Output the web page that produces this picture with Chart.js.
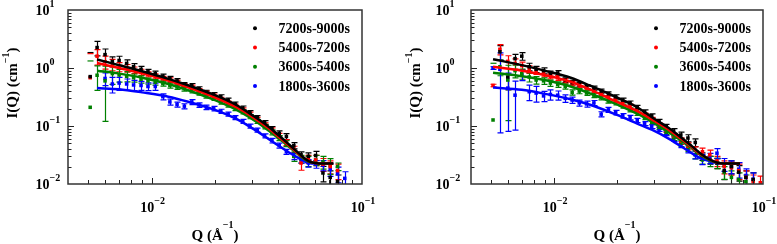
<!DOCTYPE html>
<html>
<head>
<meta charset="utf-8">
<script src="https://cdn.jsdelivr.net/npm/chart.js@4.4.1/dist/chart.umd.min.js"></script>
<style>
html, body { margin: 0; padding: 0; background: #fff; }
#wrap { position: relative; width: 777px; height: 244px; }
canvas { position: absolute; top: 0; }
#left { left: 0; }
#right { left: 390px; }
</style>
</head>
<body>
<div id="wrap">
<canvas id="left" width="390" height="244"></canvas>
<canvas id="right" width="387" height="244"></canvas>
</div>
<script>
// --- series + axis info ---
const seriesNames = ['7200s-9000s', '5400s-7200s', '3600s-5400s', '1800s-3600s'];
const seriesColors = ['#000000', '#ff0000', '#008000', '#0000ff'];

const xTickValues = [0.01, 0.1];
const xTickExps = ['\u22122', '\u22121'];
const yTickValues = [0.01, 0.1, 1, 10];
const yTickExps = ['\u22122', '\u22121', '0', '1'];

// measured Q points (shared by both panels)
const qPoints = [0.0051, 0.0055, 0.0060, 0.0065, 0.0070, 0.0076, 0.0082, 0.0089, 0.0096, 0.0104,
  0.0113, 0.0122, 0.0132, 0.0143, 0.0155, 0.0168, 0.0182, 0.0197, 0.0213, 0.0231,
  0.0250, 0.0271, 0.0293, 0.0318, 0.0344, 0.0373, 0.0404, 0.0437, 0.0474, 0.0513,
  0.0556, 0.0602, 0.0652, 0.0706, 0.0765, 0.0828, 0.0897, 0.0971];

// --- left panel: intensities + relative errors ---
const blackL = [0.71, 2.25, 1.70, 1.30, 1.35, 1.20, 1.05, 0.95, 0.86, 0.80, 0.72, 0.66, 0.60, 0.52, 0.50, 0.44, 0.38, 0.35, 0.32, 0.28,
  0.24, 0.205, 0.17, 0.14, 0.115, 0.09, 0.075, 0.066, 0.046, 0.032, 0.030, 0.031, 0.0155, 0.013, 0.011, null, null, null];
const redL = [0.68, 1.60, 1.28, 1.15, 1.05, 1.00, 0.92, 0.85, 0.78, 0.72, 0.66, 0.62, 0.56, 0.50, 0.47, 0.41, 0.37, 0.33, 0.29, 0.25,
  0.22, 0.19, 0.16, 0.13, 0.105, 0.085, 0.068, 0.052, 0.040, 0.023, 0.027, 0.026, 0.022, 0.020, 0.017, null, null, null];
const greenL = [0.21, 0.75, 0.60, 0.80, 0.76, 0.72, 0.68, 0.64, 0.60, 0.57, 0.54, 0.50, 0.47, 0.44, 0.41, 0.37, 0.33, 0.30, 0.26, 0.23,
  0.20, 0.175, 0.145, 0.12, 0.098, 0.078, 0.062, 0.050, 0.030, 0.027, 0.025, 0.026, 0.024, 0.021, 0.020, null, null, null];
const blueL = [null, null, 0.66, 0.53, 0.55, 0.53, 0.51, 0.50, 0.48, 0.48, 0.32, 0.26, 0.235, 0.22, 0.26, 0.23, 0.21, 0.20, 0.18, 0.16,
  0.14, 0.12, 0.10, 0.085, 0.068, 0.056, 0.046, 0.036, 0.030, 0.026, 0.023, 0.022, 0.021, 0.018, 0.015, 0.0125, null, null];

const blackLErr = [1.6, 0.28, 0.25, 0.2, 0.18, 0.15, 0.13, 0.12, 0.10, 0.10, 0.09, 0.09, 0.09, 0.08, 0.08, 0.08, 0.08, 0.08, 0.08, 0.08,
  0.08, 0.08, 0.08, 0.08, 0.08, 0.09, 0.10, 0.12, 0.12, 0.12, 0.15, 0.18, 0.3, 0.3, 0.3, 0, 0, 0];
const redLErr = [1.6, 0.3, 0.25, 0.22, 0.18, 0.15, 0.13, 0.12, 0.10, 0.10, 0.09, 0.09, 0.09, 0.08, 0.08, 0.08, 0.08, 0.08, 0.08, 0.08,
  0.08, 0.08, 0.08, 0.08, 0.08, 0.09, 0.10, 0.12, 0.12, 0.25, 0.15, 0.2, 0.25, 0.25, 0.3, 0, 0, 0];
const greenLErr = [5.3, 0.45, 0.8, 0.35, 0.25, 0.2, 0.16, 0.14, 0.12, 0.11, 0.10, 0.10, 0.09, 0.09, 0.09, 0.08, 0.08, 0.08, 0.08, 0.08,
  0.08, 0.08, 0.08, 0.08, 0.09, 0.10, 0.10, 0.12, 0.18, 0.15, 0.2, 0.2, 0.25, 0.3, 0.15, 0, 0, 0];
const blueLErr = [0, 0, 0.25, 0.3, 0.25, 0.22, 0.2, 0.18, 0.15, 0.14, 0.12, 0.12, 0.1, 0.1, 0.1, 0.09, 0.09, 0.09, 0.08, 0.08,
  0.08, 0.08, 0.08, 0.08, 0.08, 0.09, 0.1, 0.1, 0.12, 0.12, 0.15, 0.15, 0.2, 0.25, 0.3, 0.3, 0, 0];

// --- left panel fits ---
const fitQL = [0.0055, 0.007, 0.009, 0.012, 0.015, 0.02, 0.025, 0.03, 0.035, 0.04, 0.045, 0.05, 0.053, 0.056, 0.06, 0.065, 0.073];
const blackFitL = [1.40, 1.12, 0.88, 0.65, 0.50, 0.34, 0.235, 0.155, 0.105, 0.07, 0.048, 0.034, 0.028, 0.0245, 0.023, 0.0225, 0.0225];
const redFitL = [1.22, 1.00, 0.81, 0.61, 0.46, 0.31, 0.215, 0.145, 0.098, 0.066, 0.046, 0.033, 0.028, 0.0245, 0.023, 0.0225, 0.0225];
const greenFitL = [0.90, 0.80, 0.68, 0.53, 0.41, 0.28, 0.195, 0.132, 0.09, 0.062, 0.044, 0.032, 0.027, 0.024, 0.023, 0.0225, 0.0225];
const blueFitL = [0.45, 0.43, 0.38, 0.32, 0.26, 0.19, 0.135, 0.092, 0.064, 0.046, 0.035, 0.028, 0.025, 0.023, 0.0225, 0.0225, 0.0225];

// --- right panel: intensities + relative errors ---
const blackR = [null, 1.90, 0.70, 1.45, 1.60, 1.05, 0.95, 0.90, 0.80, 0.82, 0.62, 0.56, 0.52, 0.48, 0.45, 0.40, 0.36, 0.32, 0.28, 0.25,
  0.21, 0.175, 0.15, 0.12, 0.098, 0.082, 0.070, 0.062, 0.052, 0.030, 0.026, 0.023, 0.017, 0.020, 0.016, 0.013, 0.012, null];
const redR = [0.50, 2.10, 1.30, 1.20, 1.10, 0.95, 0.88, 0.80, 0.72, 0.68, 0.60, 0.54, 0.50, 0.45, 0.40, 0.35, 0.31, 0.28, 0.25, 0.22,
  0.185, 0.155, 0.13, 0.105, 0.085, 0.068, 0.055, 0.045, 0.038, 0.036, 0.032, 0.025, 0.020, 0.019, 0.017, 0.013, 0.011, 0.0105];
const greenR = [0.127, 1.05, 0.62, 0.90, 0.80, 0.70, 0.62, 0.60, 0.55, 0.52, 0.48, 0.38, 0.40, 0.37, 0.34, 0.31, 0.27, 0.25, 0.22, 0.19,
  0.165, 0.14, 0.115, 0.095, 0.078, 0.062, 0.050, 0.042, 0.032, 0.026, 0.025, 0.023, 0.016, 0.013, 0.012, 0.011, null, null];
const blueR = [1.0, 0.95, 0.45, 0.34, 0.76, 0.39, 0.37, 0.33, 0.35, 0.34, 0.30, 0.28, 0.25, 0.24, 0.25, 0.16, 0.19, 0.17, 0.15, 0.14,
  0.125, 0.11, 0.098, 0.088, 0.075, 0.060, 0.048, 0.040, 0.032, 0.027, 0.028, 0.034, 0.022, 0.020, 0.018, 0.014, 0.012, null];

const blackRErr = [0, 0.28, 0.4, 0.18, 0.15, 0.15, 0.12, 0.12, 0.10, 0.10, 0.09, 0.09, 0.09, 0.08, 0.08, 0.08, 0.08, 0.08, 0.08, 0.08,
  0.08, 0.08, 0.08, 0.08, 0.09, 0.10, 0.12, 0.14, 0.15, 0.15, 0.15, 0.2, 0.3, 0.25, 0.3, 0.3, 0.3, 0];
const redRErr = [0.05, 0.2, 0.25, 0.2, 0.15, 0.15, 0.12, 0.12, 0.10, 0.10, 0.09, 0.09, 0.09, 0.08, 0.08, 0.08, 0.08, 0.08, 0.08, 0.08,
  0.08, 0.08, 0.08, 0.08, 0.09, 0.10, 0.12, 0.14, 0.15, 0.15, 0.2, 0.2, 0.25, 0.25, 0.3, 0.3, 0.3, 0.3];
const greenRErr = [8.5, 0.3, 0.8, 0.25, 0.2, 0.18, 0.15, 0.13, 0.12, 0.11, 0.10, 0.10, 0.10, 0.09, 0.09, 0.09, 0.08, 0.08, 0.08, 0.08,
  0.08, 0.08, 0.08, 0.08, 0.09, 0.10, 0.12, 0.14, 0.15, 0.15, 0.2, 0.2, 0.25, 0.3, 0.3, 0.3, 0, 0];
const blueRErr = [0.05, 0.92, 0.82, 0.75, 0.2, 0.3, 0.3, 0.2, 0.2, 0.18, 0.15, 0.12, 0.12, 0.12, 0.10, 0.10, 0.10, 0.09, 0.09, 0.09,
  0.08, 0.08, 0.08, 0.08, 0.09, 0.10, 0.12, 0.14, 0.15, 0.2, 0.2, 0.2, 0.25, 0.25, 0.3, 0.3, 0.3, 0];

// --- right panel fits ---
const fitQR = [0.0051, 0.007, 0.009, 0.012, 0.015, 0.02, 0.025, 0.03, 0.035, 0.04, 0.045, 0.05, 0.055, 0.06, 0.065, 0.0776];
const blackFitR = [1.42, 1.12, 0.90, 0.68, 0.49, 0.31, 0.21, 0.135, 0.095, 0.066, 0.047, 0.034, 0.027, 0.0235, 0.0225, 0.0225];
const redFitR = [1.05, 0.90, 0.76, 0.58, 0.42, 0.26, 0.18, 0.124, 0.088, 0.062, 0.045, 0.033, 0.027, 0.0235, 0.0225, 0.0225];
const greenFitR = [0.83, 0.72, 0.62, 0.48, 0.36, 0.235, 0.163, 0.113, 0.08, 0.058, 0.043, 0.032, 0.026, 0.0235, 0.0225, 0.0225];
const blueFitR = [0.46, 0.42, 0.36, 0.29, 0.23, 0.155, 0.11, 0.083, 0.062, 0.046, 0.035, 0.028, 0.025, 0.023, 0.0225, 0.0225];

const X_MIN = 0.004, X_MAX = 0.1, Y_MIN = 0.01, Y_MAX = 10;
const FONT = '"Liberation Serif", "Times New Roman", serif';

// draws text made of normal + superscript pieces
function drawRich(ctx, parts, x, y, size, center) {
  const supSize = Math.round(size * 0.68);
  let w = 0;
  parts.forEach(p => {
    ctx.font = 'bold ' + (p.sup ? supSize : size) + 'px ' + FONT;
    p.w = ctx.measureText(p.t).width;
    w += p.w;
  });
  let cx = center ? x - w / 2 : x;
  ctx.textAlign = 'left';
  ctx.textBaseline = 'alphabetic';
  parts.forEach(p => {
    ctx.font = 'bold ' + (p.sup ? supSize : size) + 'px ' + FONT;
    ctx.fillText(p.t, cx, p.sup ? y - p.raise : y);
    cx += p.w;
  });
  return w;
}

// error bars, drawn below the markers
const errorBars = {
  id: 'errorBars',
  beforeDatasetsDraw(chart) {
    const { ctx, chartArea: a, scales: { y } } = chart;
    ctx.save();
    ctx.beginPath();
    ctx.rect(a.left, a.top, a.width, a.height);
    ctx.clip();
    ctx.lineWidth = 1.2;
    chart.data.datasets.forEach((ds, i) => {
      if (ds.type !== 'scatter') return;
      const meta = chart.getDatasetMeta(i);
      ctx.strokeStyle = ds.borderColor;
      ds.data.forEach((p, k) => {
        if (!p.e) return;
        const el = meta.data[k];
        const px = Math.round(el.x) + 0.5;
        const hi = y.getPixelForValue(p.y * (1 + p.e));
        ctx.beginPath();
        ctx.moveTo(px - 3, hi); ctx.lineTo(px + 3, hi);
        const lo = p.y * (1 - p.e);
        if (lo > 0) {
          const lp = y.getPixelForValue(lo);
          ctx.moveTo(px, hi); ctx.lineTo(px, lp);
          ctx.moveTo(px - 3, lp); ctx.lineTo(px + 3, lp);
        }
        ctx.stroke();
      });
    });
    ctx.restore();
  }
};

// box, inward ticks, tick labels, axis titles, legend
const frame = {
  id: 'frame',
  afterDraw(chart, args, opts) {
    const { ctx, chartArea: a, scales: { x, y } } = chart;
    ctx.save();
    ctx.strokeStyle = '#222';
    ctx.lineWidth = 1;
    ctx.beginPath();
    for (let d = -3; d <= -1; d++) {
      for (let m = 1; m <= 9; m++) {
        const v = m * Math.pow(10, d);
        if (v <= X_MIN * 1.001 || v >= X_MAX * 0.999) continue;
        const px = Math.round(x.getPixelForValue(v)) + 0.5;
        ctx.moveTo(px, a.bottom); ctx.lineTo(px, a.bottom - (m === 1 ? 6 : 4));
      }
    }
    for (let d = -2; d <= 0; d++) {
      for (let m = 1; m <= 9; m++) {
        const v = m * Math.pow(10, d);
        if (v <= Y_MIN * 1.001) continue;
        const py = Math.round(y.getPixelForValue(v)) + 0.5;
        ctx.moveTo(a.left, py); ctx.lineTo(a.left + (m === 1 ? 6 : 3.5), py);
      }
    }
    ctx.stroke();
    ctx.lineWidth = 1.5;
    ctx.strokeStyle = '#333';
    ctx.strokeRect(a.left, a.top, a.width, a.height);

    ctx.fillStyle = '#000';
    yTickValues.forEach((v, i) => {
      const py = y.getPixelForValue(v);
      ctx.font = 'bold 14px ' + FONT;
      const w10 = ctx.measureText('10').width;
      const sx = a.left - opts.yGap - w10;
      drawRich(ctx, [{ t: '10' }, { t: yTickExps[i], sup: true, raise: 8 }], sx, py + 5, 14, false);
    });
    xTickValues.forEach((v, i) => {
      const px = x.getPixelForValue(v);
      drawRich(ctx, [{ t: '10' }, { t: xTickExps[i], sup: true, raise: 8 }], px + 1, a.bottom + 28, 14, true);
    });

    drawRich(ctx, [{ t: 'Q (\u00c5' }, { t: '\u22121', sup: true, raise: 12 }, { t: ')' }],
      (a.left + a.right) / 2, a.bottom + 56, 15, true);

    ctx.save();
    ctx.translate(a.left - 51, 83);
    ctx.rotate(-Math.PI / 2);
    drawRich(ctx, [{ t: 'I(Q) (cm' }, { t: '\u22121', sup: true, raise: 8 }, { t: ')' }], 0, 0, 15, true);
    ctx.restore();

    // legend
    const rows = [18.3, 37.5, 56.7, 75.9];
    seriesNames.forEach((name, i) => {
      const ly = a.top + rows[i];
      ctx.fillStyle = seriesColors[i];
      ctx.beginPath();
      ctx.arc(a.right - 107, ly, 2, 0, Math.PI * 2);
      ctx.fill();
      ctx.fillStyle = '#000';
      ctx.font = 'bold 14px ' + FONT;
      ctx.textAlign = 'left';
      ctx.textBaseline = 'middle';
      ctx.fillText(name, a.right - 83.5, ly + 1);
    });
    ctx.restore();
  }
};

function makeChart(id, pts, errs, fitQ, fits, padding, yGap) {
  const datasets = [];
  seriesNames.forEach((name, i) => {
    datasets.push({
      type: 'line',
      label: name + ' fit',
      data: fitQ.map((q, k) => ({ x: q, y: fits[i][k] })),
      borderColor: seriesColors[i],
      borderWidth: 2.5,
      pointRadius: 0,
      cubicInterpolationMode: 'monotone',
      order: i
    });
  });
  seriesNames.forEach((name, i) => {
    const data = [];
    qPoints.forEach((q, k) => {
      if (pts[i][k] != null) data.push({ x: q, y: pts[i][k], e: errs[i][k] });
    });
    datasets.push({
      type: 'scatter',
      label: name,
      data: data,
      borderColor: seriesColors[i],
      backgroundColor: seriesColors[i],
      pointStyle: 'rect',
      pointRadius: 2.5,
      borderWidth: 0,
      order: 4 + i
    });
  });

  return new Chart(document.getElementById(id), {
    type: 'scatter',
    data: { datasets },
    options: {
      responsive: false,
      animation: false,
      layout: { padding },
      scales: {
        x: { type: 'logarithmic', min: X_MIN, max: X_MAX, display: false },
        y: { type: 'logarithmic', min: Y_MIN, max: Y_MAX, display: false }
      },
      plugins: {
        legend: { display: false },
        tooltip: { enabled: false },
        frame: { yGap }
      }
    },
    plugins: [errorBars, frame]
  });
}

makeChart('left',
  [blackL, redL, greenL, blueL],
  [blackLErr, redLErr, greenLErr, blueLErr],
  fitQL,
  [blackFitL, redFitL, greenFitL, blueFitL],
  { left: 68, right: 28, top: 10, bottom: 60 }, 18.5);

makeChart('right',
  [blackR, redR, greenR, blueR],
  [blackRErr, redRErr, greenRErr, blueRErr],
  fitQR,
  [blackFitR, redFitR, greenFitR, blueFitR],
  { left: 81, right: 14, top: 10, bottom: 60 }, 21.5);
</script>
</body>
</html>
